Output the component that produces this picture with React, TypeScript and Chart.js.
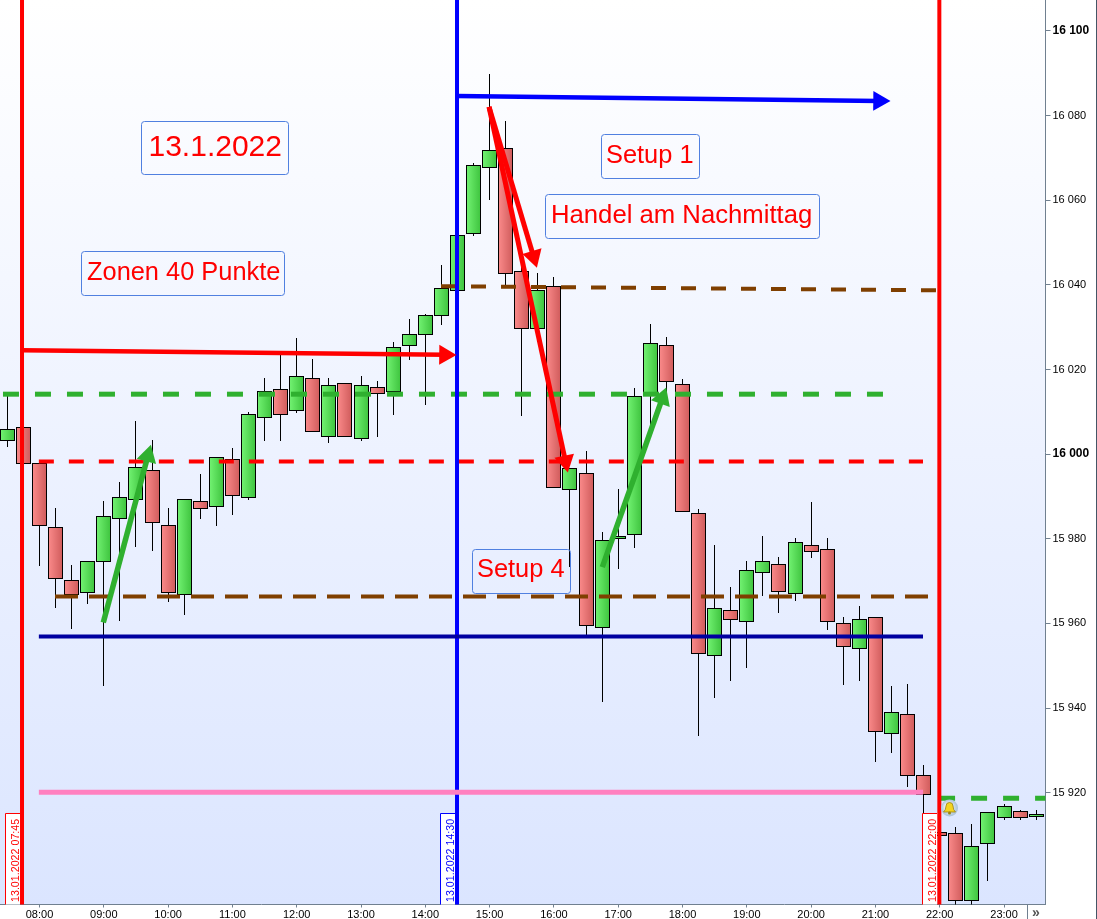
import React, { useEffect, useRef } from "react";
import { Chart, registerables } from "chart.js";

Chart.register(...registerables);

const times = ["07:30","07:45","08:00","08:15","08:30","08:45","09:00","09:15","09:30","09:45","10:00","10:15","10:30","10:45","11:00","11:15","11:30","11:45","12:00","12:15","12:30","12:45","13:00","13:15","13:30","13:45","14:00","14:15","14:30","14:45","15:00","15:15","15:30","15:45","16:00","16:15","16:30","16:45","17:00","17:15","17:30","17:45","18:00","18:15","18:30","18:45","19:00","19:15","19:30","19:45","20:00","20:15","20:30","20:45","21:00","21:15","21:30","21:45","22:00","22:15","22:30","22:45","23:00","23:15","23:30"];
const opens = [16003.1,16006.4,15997.9,15982.8,15970.3,15967.2,15974.6,15984.7,15989.2,15996.3,15983.3,15966.8,15989.0,15987.5,15998.9,15989.7,16008.6,16015.4,16010.2,16018.0,16004.1,16016.8,16003.6,16015.9,16014.7,16025.6,16028.2,16032.7,16038.6,16052.0,16067.6,16072.4,16043.3,16029.6,16039.8,15991.6,15995.6,15959.0,15980.0,15980.9,16014.0,16025.8,16016.6,15986.1,15952.4,15963.2,15960.4,15972.0,15974.1,15967.0,15978.6,15977.6,15960.1,15954.0,15961.6,15933.9,15938.6,15924.2,15910.8,15910.5,15894.5,15907.9,15914.1,15915.7,15914.3];
const closes = [16006.0,15997.7,15983.1,15970.5,15966.8,15974.8,15985.4,15989.9,15997.0,15983.8,15967.2,15989.4,15987.1,15999.4,15990.2,16009.5,16015.0,16009.3,16018.5,16005.3,16016.4,16004.1,16016.4,16014.2,16025.3,16028.4,16032.9,16039.3,16051.8,16068.3,16071.9,16042.6,16029.6,16038.8,15992.0,15996.8,15959.4,15979.8,15980.7,16013.8,16026.3,16017.1,15986.4,15952.8,15963.7,15960.9,15972.7,15974.8,15967.5,15979.3,15976.9,15960.4,15954.5,15961.1,15934.4,15939.1,15924.0,15919.5,15909.8,15894.5,15907.5,15915.5,15916.9,15914.1,15915.0];
const highs = [16014.0,16006.4,15997.9,15987.3,15973.9,15974.8,15989.0,15993.5,16007.9,16003.4,15987.3,15989.4,15995.3,15999.4,16001.5,16010.0,16018.0,16023.5,16027.5,16022.5,16018.0,16016.8,16018.5,16017.3,16026.5,16032.0,16033.1,16044.7,16051.8,16068.8,16089.8,16078.7,16045.9,16042.8,16041.9,15996.8,16000.8,15981.6,15991.8,16015.7,16030.8,16027.7,16017.8,15987.1,15978.6,15968.7,15974.8,15980.7,15975.7,15980.2,15988.7,15980.2,15961.6,15964.2,15961.6,15945.3,15945.7,15926.6,15910.8,15912.0,15912.7,15915.5,15917.4,15916.0,15916.0];
const lows = [16001.7,15997.7,15973.6,15963.7,15958.7,15964.6,15945.3,15960.6,15978.1,15977.2,15965.1,15962.0,15984.7,15983.1,15985.7,15989.2,16003.1,16003.1,16009.8,16005.3,16002.7,16004.1,16003.1,16004.1,16009.3,16022.3,16011.6,16030.5,16038.6,16051.6,16060.1,16039.5,16009.0,16026.5,15992.0,15973.4,15956.8,15941.5,15972.9,15977.9,16006.9,16014.0,15986.4,15933.5,15942.4,15946.4,15949.5,15966.5,15962.5,15965.3,15975.5,15958.5,15945.5,15946.4,15927.3,15929.4,15921.4,15915.3,15909.8,15893.5,15893.5,15899.2,15913.6,15913.6,15913.6];

const hourLabels = ["08:00","09:00","10:00","11:00","12:00","13:00","14:00","15:00","16:00","17:00","18:00","19:00","20:00","21:00","22:00","23:00"];
const boldPrices = [16000, 16100];

const greenDashUpper = [[7.432,16014.17],[21.118,16014.17]];
const greenDashLower = [[21.99,15918.73],[23.65,15918.73]];
const redDash = [[7.99,15998.25],[21.74,15998.25]];
const brownDash = [[8.241,15966.36],[21.818,15966.36]];
const brownSlope = [[14.244,16039.69],[21.974,16038.7]];
const navyLine = [[7.99,15956.91],[21.74,15956.91]];
const pinkLine = [[7.99,15920.15],[21.74,15920.15]];
const redLeftVertical = [[7.728,15800],[7.728,16200]];
const blueVertical = [[14.493,15800],[14.493,16200]];
const redRightVertical = [[21.994,15800],[21.994,16200]];
const arrowRedFlat = [[7.728,16024.57],[14.306,16023.48]];
const arrowBlueFlat = [[14.493,16084.64],[21.056,16083.46]];
const arrowRedShort = [[14.991,16082.05],[15.684,16046.66]];
const arrowRedLong = [[14.991,16082.05],[16.179,15998.3]];
const arrowGreenLeft = [[8.992,15960.22],[9.686,15999.62]];
const arrowGreenRight = [[16.753,15973.31],[17.686,16013.21]];

const FONT = '"Liberation Sans", Arial, sans-serif';
const toHour = (t: string) => { const [h, m] = t.split(":").map(Number); return h + m / 60; };

const textBoxes = [
  { text: "13.1.2022", size: 30, l: 141.5, t: 121.5, r: 288.5, b: 174.5, tx: 148.5, ty: 156 },
  { text: "Zonen 40 Punkte", size: 25.4, l: 81.5, t: 251.5, r: 284.5, b: 295.5, tx: 87, ty: 280 },
  { text: "Setup 1", size: 25.4, l: 601.5, t: 134.5, r: 699.5, b: 178.5, tx: 606, ty: 163 },
  { text: "Handel am Nachmittag", size: 25.7, l: 545.5, t: 194.5, r: 819.5, b: 238.5, tx: 551, ty: 223 },
  { text: "Setup 4", size: 25.4, l: 472.5, t: 549.5, r: 570.5, b: 593.5, tx: 477, ty: 577 },
];
const dateBoxes = [
  { text: "13.01.2022 07:45", color: "#ff0000", l: 5.5, r: 20 },
  { text: "13.01.2022 14:30", color: "#0000ff", l: 440.5, r: 455 },
  { text: "13.01.2022 22:00", color: "#ff0000", l: 922.5, r: 937 },
];

const chromePlugin = {
  id: "chrome",
  beforeDraw(chart: any) {
    const { ctx, chartArea: a } = chart;
    const g = ctx.createLinearGradient(0, a.top, 0, a.bottom);
    g.addColorStop(0, "#ffffff");
    g.addColorStop(1, "#dbe5ff");
    ctx.save();
    ctx.fillStyle = g;
    ctx.fillRect(a.left, a.top, a.right - a.left, a.bottom - a.top);
    ctx.restore();
  },
  beforeDatasetsDraw(chart: any) {
    chart.getSortedVisibleDatasetMetas().forEach((m: any) => {
      if (m.type !== "bar") return;
      m.data.forEach((el: any) => {
        el.x = Math.floor(el.x) + 0.5;
        el.y = Math.round(el.y);
        el.base = Math.round(el.base);
      });
    });
  },
  afterDatasetsDraw(chart: any) {
    const { ctx, chartArea: a } = chart;
    ctx.save();
    textBoxes.forEach((b) => {
      ctx.beginPath();
      ctx.roundRect(b.l, b.t, b.r - b.l, b.b - b.t, 3);
      ctx.strokeStyle = "#5080e0";
      ctx.lineWidth = 1;
      ctx.stroke();
      ctx.fillStyle = "#ff0000";
      ctx.font = `${b.size}px ${FONT}`;
      ctx.textBaseline = "alphabetic";
      ctx.textAlign = "left";
      ctx.fillText(b.text, b.tx, b.ty);
    });
    dateBoxes.forEach((b) => {
      ctx.fillStyle = "#ffffff";
      ctx.fillRect(b.l, 813.5, b.r - b.l, a.bottom - 813.5);
      ctx.strokeStyle = b.color;
      ctx.lineWidth = 1;
      ctx.beginPath();
      ctx.moveTo(b.l, a.bottom);
      ctx.lineTo(b.l, 813.5);
      ctx.lineTo(b.r, 813.5);
      ctx.stroke();
      ctx.save();
      ctx.translate(b.r - 1.5, 902);
      ctx.rotate(-Math.PI / 2);
      ctx.fillStyle = b.color;
      ctx.font = `10.7px ${FONT}`;
      ctx.textAlign = "left";
      ctx.textBaseline = "alphabetic";
      ctx.fillText(b.text, 0, 0);
      ctx.restore();
    });
    // bell icon
    const cx = 949.5, cy = 808;
    const glass = ctx.createRadialGradient(cx - 2, cy - 2, 1, cx, cy, 8.5);
    glass.addColorStop(0, "#ffffff");
    glass.addColorStop(1, "#a9c2d8");
    ctx.fillStyle = glass;
    ctx.beginPath();
    ctx.arc(cx, cy, 8.5, 0, Math.PI * 2);
    ctx.fill();
    ctx.fillStyle = "#f4d420";
    ctx.strokeStyle = "#9a8210";
    ctx.lineWidth = 0.8;
    ctx.beginPath();
    ctx.moveTo(cx - 6, cy + 4);
    ctx.quadraticCurveTo(cx - 3.5, cy + 2, cx - 3.5, cy - 2);
    ctx.arc(cx, cy - 2, 3.5, Math.PI, 0);
    ctx.quadraticCurveTo(cx + 3.5, cy + 2, cx + 6, cy + 4);
    ctx.closePath();
    ctx.fill();
    ctx.stroke();
    ctx.fillStyle = "#9a8210";
    ctx.beginPath();
    ctx.arc(cx, cy + 5, 1.5, 0, Math.PI * 2);
    ctx.fill();
    ctx.restore();
  },
  afterDraw(chart: any) {
    const { ctx, chartArea: a, width, height } = chart;
    ctx.save();
    ctx.fillStyle = "#ffffff";
    ctx.fillRect(1027, a.bottom + 1, a.right - 1027, height - a.bottom);
    ctx.fillStyle = "#708090";
    ctx.fillRect(1027, a.bottom, 1, height - a.bottom);
    ctx.fillStyle = "#555555";
    ctx.font = `bold 14px ${FONT}`;
    ctx.textAlign = "center";
    ctx.textBaseline = "middle";
    ctx.fillText("»", 1036, a.bottom + 8.5);
    ctx.fillStyle = "#445566";
    ctx.fillRect(width - 1, 0, 1, height);
    ctx.restore();
  },
};

const pts = (arr: number[][]) => arr.map(([x, y]) => ({ x, y }));

const makeLine = (data: number[][], color: string, width: number, dash: number[], order: number) => ({
  type: "line" as const,
  data: pts(data),
  borderColor: color,
  borderWidth: width,
  borderDash: dash,
  pointRadius: 0,
  tension: 0,
  fill: false,
  order,
});

const makeArrow = (data: number[][], color: string, width: number, rotation: number) => ({
  type: "line" as const,
  data: pts(data),
  borderColor: color,
  backgroundColor: color,
  borderWidth: width,
  tension: 0,
  fill: false,
  order: 20,
  pointStyle: "triangle",
  pointRadius: [0, 11.5],
  pointRotation: [0, rotation],
  pointBorderWidth: 0,
  pointBackgroundColor: color,
  pointBorderColor: color,
});

export default function App() {
  const ref = useRef<HTMLCanvasElement | null>(null);
  useEffect(() => {
    if (!ref.current) return;
    const xs = times.map(toHour);
    const bodyFill = (c: any) => {
      const up = closes[c.dataIndex] >= opens[c.dataIndex];
      const fallback = up ? "#58dc58" : "#e87676";
      if (!c.raw) return fallback;
      const p = c.chart.scales.x.getPixelForValue(c.raw.x);
      if (!Number.isFinite(p)) return fallback;
      const px = Math.floor(p) + 0.5;
      const g = c.chart.ctx.createLinearGradient(px - 7, 0, px + 7, 0);
      g.addColorStop(0, up ? "#72f272" : "#fa8a8a");
      g.addColorStop(1, up ? "#3fc43f" : "#d05c5c");
      return g;
    };
    const chart = new Chart(ref.current, {
      type: "bar",
      data: {
        datasets: [
          {
            type: "bar",
            data: xs.map((x, i) => ({ x, y: [lows[i], highs[i]] })),
            backgroundColor: "#000000",
            barThickness: 1,
            grouped: false,
            borderWidth: 0,
            inflateAmount: 0,
            order: 100,
          },
          {
            type: "bar",
            data: xs.map((x, i) => ({ x, y: [opens[i], closes[i]] })),
            backgroundColor: bodyFill,
            borderColor: "#000000",
            borderWidth: 1,
            borderSkipped: false,
            inflateAmount: 0,
            barThickness: 15,
            grouped: false,
            order: 99,
          },
          makeLine(greenDashUpper, "#2fb02f", 5, [16, 16], 50),
          makeLine(greenDashLower, "#2fb02f", 5, [16, 16], 50),
          makeLine(redDash, "#ff0000", 4, [15, 15], 50),
          makeLine(brownDash, "#7f3f00", 4, [23, 11], 50),
          makeLine(brownSlope, "#7f3f00", 4, [15, 15], 50),
          makeLine(redLeftVertical, "#ff0000", 4, [], 40),
          makeLine(blueVertical, "#0000ff", 4, [], 40),
          makeLine(redRightVertical, "#ff0000", 4, [], 40),
          makeLine(navyLine, "#0000a0", 4, [], 30),
          makeLine(pinkLine, "#ff80c0", 5, [], 30),
          makeArrow(arrowRedFlat, "#ff0000", 4.5, 90.6),
          makeArrow(arrowBlueFlat, "#0000ff", 4.5, 90.6),
          makeArrow(arrowRedShort, "#ff0000", 5, 163.4),
          makeArrow(arrowRedLong, "#ff0000", 5, 167.85),
          makeArrow(arrowGreenLeft, "#2fb02f", 5.5, 15),
          makeArrow(arrowGreenRight, "#2fb02f", 5.5, 19.6),
        ] as any,
      },
      options: {
        responsive: false,
        animation: false,
        devicePixelRatio: 1,
        events: [],
        layout: { padding: 0, autoPadding: false },
        plugins: { legend: { display: false }, tooltip: { enabled: false }, title: { display: false } },
        scales: {
          x: {
            type: "linear",
            min: 7.3857,
            max: 23.645,
            offset: false,
            afterFit: (s: any) => { s.height = 14.5; s.paddingLeft = 0; s.paddingRight = 0; s.paddingTop = 0; s.paddingBottom = 0; },
            grid: { offset: false, drawOnChartArea: false, drawTicks: true, tickLength: 3, tickColor: "#708090" },
            border: { display: true, color: "#708090", width: 1 },
            ticks: {
              stepSize: 1,
              autoSkip: false,
              includeBounds: false,
              maxRotation: 0,
              padding: 1,
              color: "#000000",
              font: { family: FONT, size: 11 },
              callback: (v: any) => hourLabels[Number(v) - 8] ?? "",
            },
          },
          y: {
            type: "linear",
            position: "right",
            min: 15893.6,
            max: 16107.3,
            afterBuildTicks: (s: any) => { s.ticks = s.ticks.filter((t: any) => t.value >= 15920); },
            afterFit: (s: any) => { s.width = 51.5; s.paddingLeft = 0; s.paddingRight = 0; s.paddingTop = 0; s.paddingBottom = 0; },
            grid: { drawOnChartArea: false, drawTicks: true, tickLength: 5, tickColor: "#708090" },
            border: { display: true, color: "#708090", width: 1 },
            ticks: {
              stepSize: 20,
              autoSkip: false,
              includeBounds: false,
              padding: 2,
              color: "#000000",
              font: (c: any) => boldPrices.includes(c.tick?.value)
                ? { family: FONT, size: 12, weight: "bold" }
                : { family: FONT, size: 11 },
              callback: (v: any) => `${Math.floor(v / 1000)} ${String(v % 1000).padStart(3, "0")}`,
            },
          },
        },
      } as any,
      plugins: [chromePlugin],
    });
    return () => chart.destroy();
  }, []);
  return (
    <div style={{ position: "fixed", left: 0, top: 0, width: 1097, height: 919, overflow: "hidden", background: "#fff" }}>
      <canvas ref={ref} width={1097} height={919} style={{ display: "block" }} />
    </div>
  );
}
